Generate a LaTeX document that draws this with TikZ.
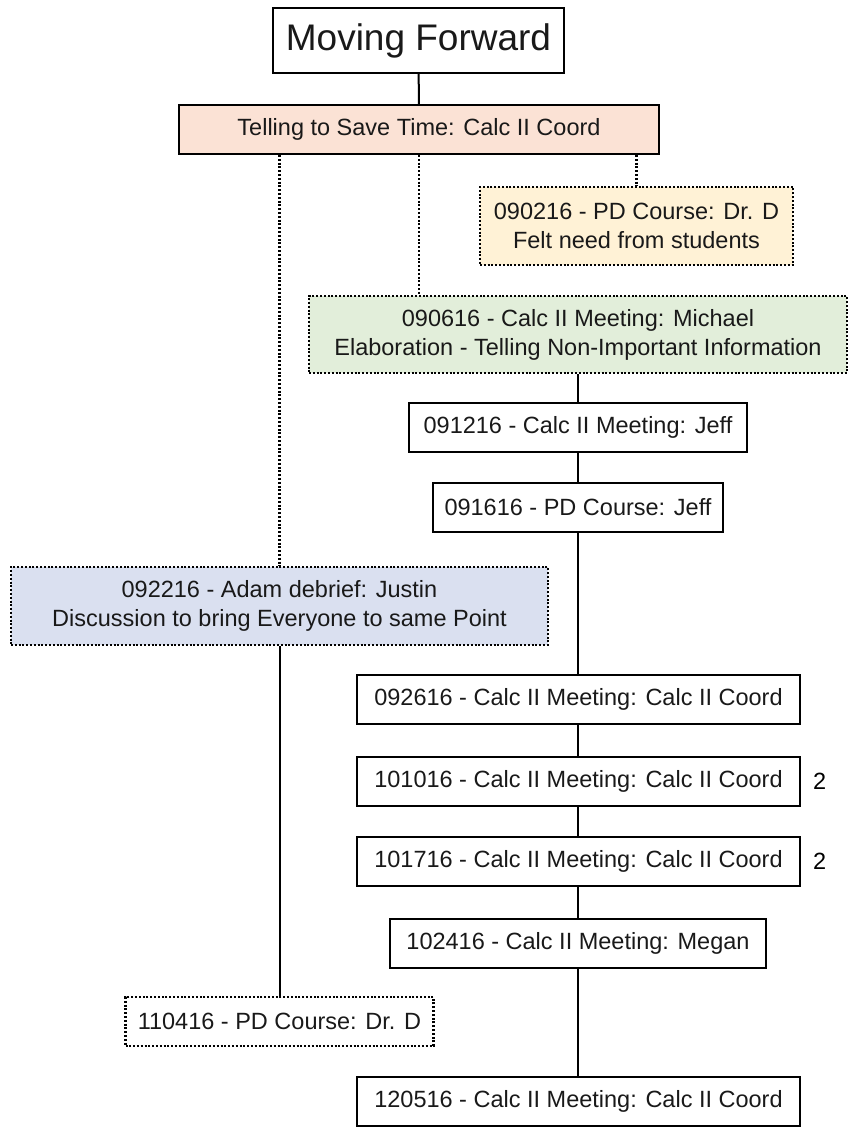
\documentclass[tikz,border=0pt]{standalone}
\usepackage{fontspec}
\setmainfont{Liberation Sans}
\usetikzlibrary{positioning}
\definecolor{tellpeach}{RGB}{251,226,213}
\definecolor{feltyellow}{RGB}{255,242,214}
\definecolor{elabgreen}{RGB}{226,238,218}
\definecolor{debriefblue}{RGB}{218,224,240}
\tikzset{
  timelinepic/.style={
    x=1pt,y=-1pt
    ,line width=2pt
  }
  ,bounder/.style={draw=black,line width=2pt,inner sep=0pt,align=center
    ,font=\fontsize{23.5}{29}\selectfont\color{black!90}}
  ,meeting/.style={bounder,minimum height=49pt}
  ,heading/.style={bounder,minimum height=65pt
    ,font=\fontsize{37}{40}\selectfont\color{black!90}}
  ,loosebox/.style={bounder,line width=2.2pt,dash pattern=on 2pt off 1.8pt}
  ,theme/.style={meeting,fill=tellpeach}
  ,feltneed/.style={loosebox,fill=feltyellow,minimum height=78pt}
  ,elaborate/.style={loosebox,fill=elabgreen,minimum height=77pt}
  ,debrief/.style={loosebox,fill=debriefblue,minimum height=78pt}
  ,link/.style={draw=black,line width=2pt}
  ,looselink/.style={link,line width=2.2pt,dash pattern=on 2pt off 1.8pt}
  ,tally/.style={inner sep=0pt,font=\fontsize{23.5}{29}\selectfont}
}

\begin{document}
\begin{tikzpicture}[timelinepic]
  \useasboundingbox (0,0) rectangle (850,1127);
  % top of the tree
  \node[heading,minimum width=291pt] (fwd) at (418.5,40.5) {Moving Forward};
  \node[theme,minimum width=480pt] (save) at (419,129.5) {Telling to Save Time: Calc II Coord};
  % side branches
  \node[feltneed,minimum width=313pt] (pd0902) at (636.5,226)
    {090216 - PD Course: Dr. D\\Felt need from students};
  \node[elaborate,minimum width=538pt] (mtg0906) at (578,334.5)
    {090616 - Calc II Meeting: Michael\\Elaboration - Telling Non-Important Information};
  \node[debrief,minimum width=537pt] (adam0922) at (279.5,606)
    {092216 - Adam debrief: Justin\\Discussion to bring Everyone to same Point};
  \node[loosebox,minimum width=308pt,minimum height=49pt] (pd1104) at (279.5,1021.5)
    {110416 - PD Course: Dr. D};
  % main column
  \node[meeting,minimum width=338pt] (mtg0912) at (578,427.5) {091216 - Calc II Meeting: Jeff};
  \node[meeting,minimum width=290pt] (pd0916) at (578,507.5) {091616 - PD Course: Jeff};
  \node[meeting,minimum width=443pt] (mtg0926) at (578.5,699.5) {092616 - Calc II Meeting: Calc II Coord};
  \node[meeting,minimum width=443pt] (mtg1010) at (578.5,781.5) {101016 - Calc II Meeting: Calc II Coord};
  \node[meeting,minimum width=443pt] (mtg1017) at (578.5,861.5) {101716 - Calc II Meeting: Calc II Coord};
  \node[meeting,minimum width=376pt] (mtg1024) at (578,943.5) {102416 - Calc II Meeting: Megan};
  \node[meeting,minimum width=443pt] (mtg1205) at (578.5,1101.5) {120516 - Calc II Meeting: Calc II Coord};
  \node[tally,right=11pt of mtg1010] (cnt1010) {2};
  \node[tally,right=11pt of mtg1017] (cnt1017) {2};

  % connectors
  \draw[link] (fwd) -- (save);
  \draw[looselink] (save.south -| pd0902.north) -- (pd0902.north);
  \draw[looselink] (save.south) -- (save.south |- mtg0906.north);
  \draw[looselink] (save.south -| adam0922.north) -- (adam0922.north);
  \draw[link] (adam0922.south) -- (pd1104.north -| adam0922.south);
  \draw[link] (mtg0906.south -| mtg0912.north) -- (mtg0912.north);
  \draw[link] (mtg0912) -- (pd0916);
  \draw[link] (pd0916.south) -- (pd0916.south |- mtg0926.north);
  \draw[link] (mtg0926.south -| pd0916.south) -- (mtg1010.north -| pd0916.south);
  \draw[link] (mtg1010.south -| pd0916.south) -- (mtg1017.north -| pd0916.south);
  \draw[link] (mtg1017.south -| pd0916.south) -- (mtg1024.north);
  \draw[link] (mtg1024.south) -- (mtg1205.north -| mtg1024.south);
\end{tikzpicture}
\end{document}
